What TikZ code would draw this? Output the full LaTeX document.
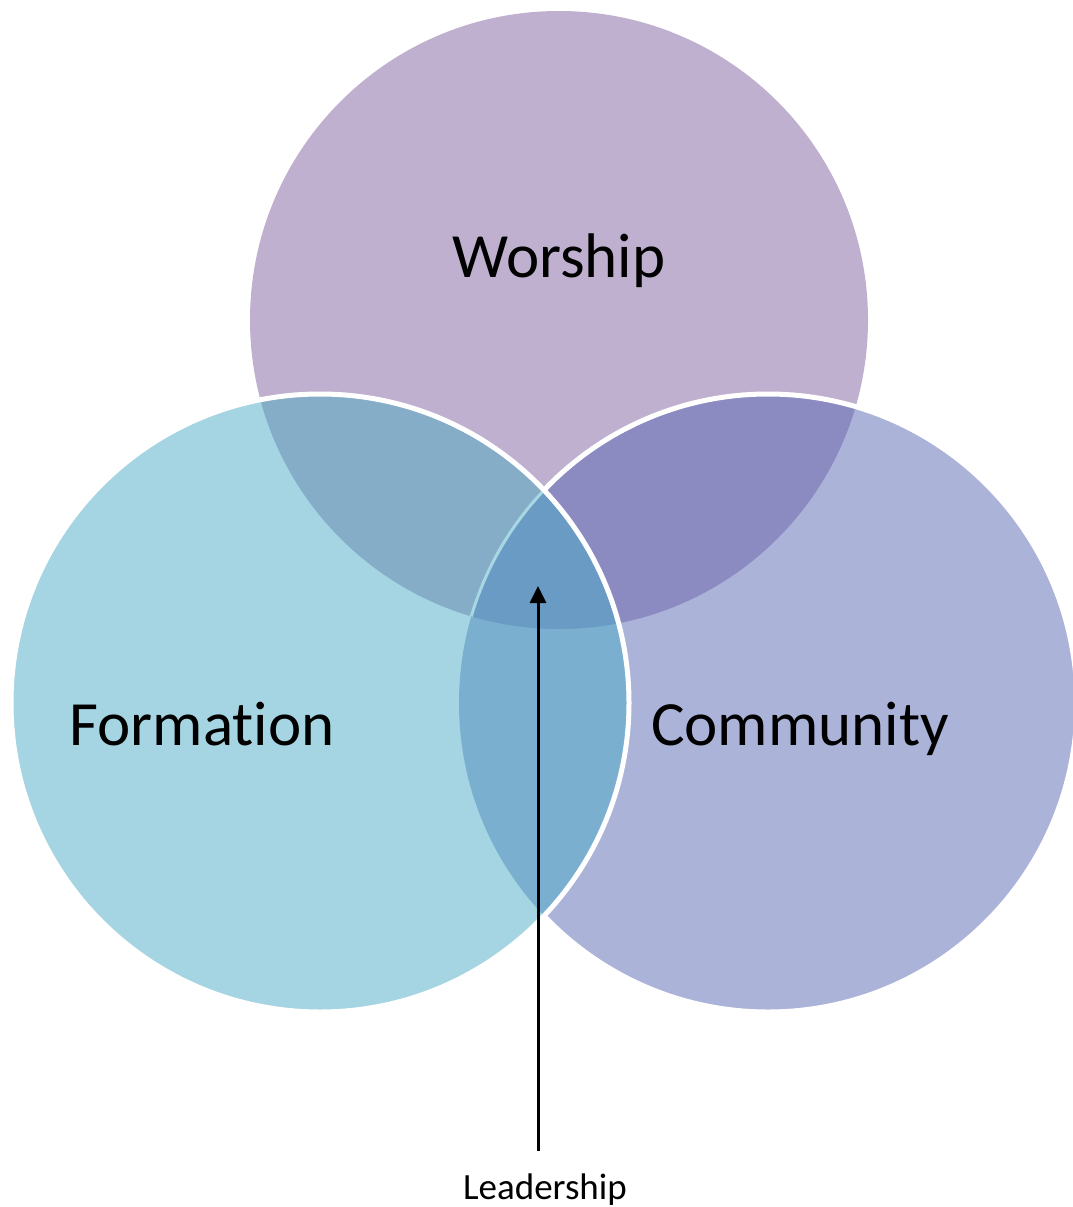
\documentclass[tikz,border=0pt]{standalone}
\usepackage{fontspec}
\setmainfont[Ligatures={NoCommon,NoRequired,NoContextual},RawFeature={-liga;-clig}]{Carlito}
\usetikzlibrary{arrows.meta}
\definecolor{cTop}{HTML}{BFB0D0}
\definecolor{cLeft}{HTML}{A5D5E2}
\definecolor{cRight}{HTML}{ABB3D8}
\definecolor{cTL}{HTML}{85ADC8}
\definecolor{cTR}{HTML}{8B8BC1}
\definecolor{cLR}{HTML}{7AAFD0}
\definecolor{cTLR}{HTML}{6A9BC4}
\definecolor{cFaint}{HTML}{A6D7E3}
\tikzset{
  bigtext/.style={font=\fontsize{63}{70}\selectfont, text=black, inner sep=0pt, anchor=base},
  smalltext/.style={font=\fontsize{37}{42}\selectfont, text=black, inner sep=0pt, anchor=base},
  whiteedge/.style={draw=white, line width=5pt},
  faintedge/.style={draw=cFaint, line width=3pt},
  pointer/.style={draw=black, line width=3pt, -{Triangle[length=17pt,width=16pt]}}
}
\begin{document}
\begin{tikzpicture}[x=1pt,y=-1pt]
\useasboundingbox (0,0) rectangle (1073,1207);
\clip (0,0) rectangle (1073,1207);
\coordinate (pT) at (559,320);
\coordinate (pL) at (320,703);
\coordinate (pR) at (768,703);
% base fills
\fill[cTop] (pT) circle (309pt);
\fill[cRight] (pR) circle (309pt);
\fill[cLeft] (pL) circle (309pt);
% overlaps
\begin{scope}
  \clip (pT) circle (309pt);
  \fill[cTL] (pL) circle (309pt);
  \fill[cTR] (pR) circle (309pt);
\end{scope}
\begin{scope}
  \clip (pL) circle (309pt);
  \fill[cLR] (pR) circle (309pt);
\end{scope}
\begin{scope}
  \clip (pT) circle (309pt);
  \clip (pL) circle (309pt);
  \fill[cTLR] (pR) circle (309pt);
  \draw[faintedge] (pR) circle (309pt);
\end{scope}
% white outlines
\begin{scope}
  \begin{pgfinterruptboundingbox}
  \pgfseteorule
  \clip (-10,-10) rectangle (1100,1220) (pL) circle (309pt);
  \end{pgfinterruptboundingbox}
  \draw[whiteedge] (pR) circle (309pt);
\end{scope}
\draw[whiteedge] (pL) circle (309pt);
% labels
\node[bigtext] (worship) at (559,277) {Worship};
\node[bigtext] (formation) at (202,745) {Formation};
\node[bigtext] (community) at (800,745) {Community};
\node[smalltext] (leadership) at (545,1199) {Leadership};
% pointer
\coordinate (tail) at (538,1151);
\coordinate (tip) at (538,586);
\draw[pointer] (tail) -- (tip);
\end{tikzpicture}
\end{document}
